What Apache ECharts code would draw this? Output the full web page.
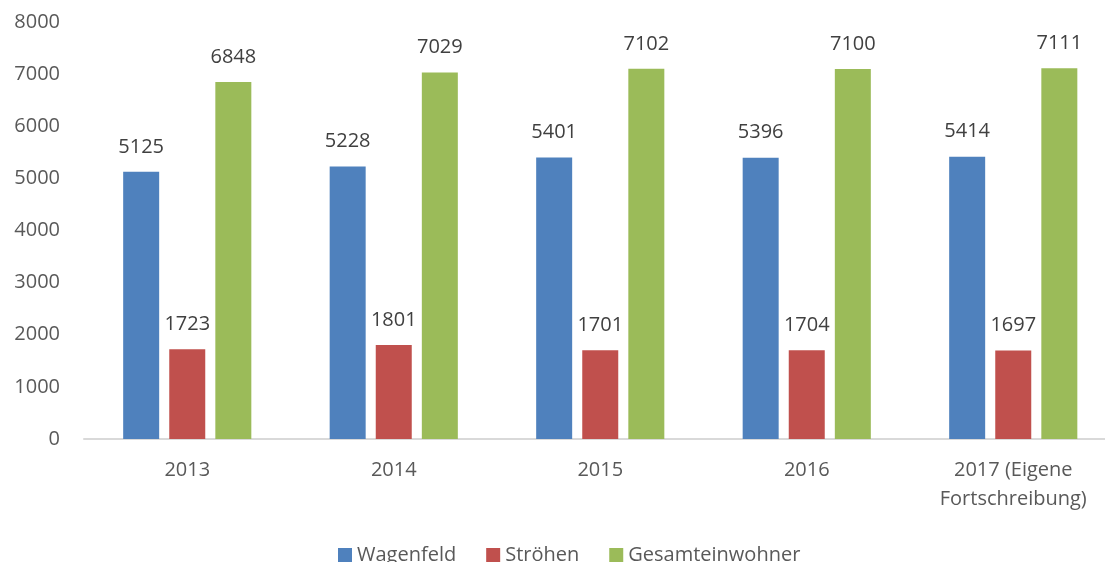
<!DOCTYPE html>
<html>
<head>
<meta charset="utf-8">
<script src="https://cdn.jsdelivr.net/npm/echarts@6/dist/echarts.min.js"></script>
<style>
  html, body { margin: 0; padding: 0; background: #fff; }
  #chart { width: 1105px; height: 562px; }
</style>
</head>
<body>
<div id="chart"></div>
<script>
const years = ['2013', '2014', '2015', '2016', '2017 (Eigene\nFortschreibung)'];
const wagenfeld = [5125, 5228, 5401, 5396, 5414];
const stroehen = [1723, 1801, 1701, 1704, 1697];
const gesamt = [6848, 7029, 7102, 7100, 7111];

const font = 'Open Sans';
const labelStyle = {
  show: true,
  position: 'top',
  distance: 15,
  color: '#404040',
  fontFamily: font,
  fontSize: 20
};

const chart = echarts.init(document.getElementById('chart'));
chart.setOption({
  animation: false,
  textStyle: { fontFamily: font },
  grid: { left: 84, right: -11.5, top: 22, bottom: 123, outerBoundsMode: 'none' },
  legend: {
    top: 540,
    left: 333,
    itemWidth: 14,
    itemHeight: 14,
    itemGap: 30,
    icon: 'rect',
    textStyle: { color: '#595959', fontFamily: font, fontSize: 20 },
    data: ['Wagenfeld', 'Ströhen', 'Gesamteinwohner']
  },
  xAxis: {
    type: 'category',
    data: years,
    axisLine: { lineStyle: { color: '#d9d9d9', width: 2 } },
    axisTick: { show: false },
    axisLabel: {
      color: '#595959',
      fontFamily: font,
      fontSize: 20,
      margin: 17,
      lineHeight: 29
    }
  },
  yAxis: {
    type: 'value',
    min: 0,
    max: 8000,
    interval: 1000,
    splitLine: { show: false },
    axisLine: { show: false },
    axisTick: { show: false },
    axisLabel: {
      color: '#595959',
      fontFamily: font,
      fontSize: 20,
      margin: 24,
      formatter: v => String(v)
    }
  },
  series: [
    { name: 'Wagenfeld', type: 'bar', data: wagenfeld, barWidth: 36, barGap: '28%',
      itemStyle: { color: '#4f81bd' }, label: labelStyle },
    { name: 'Ströhen', type: 'bar', data: stroehen, barWidth: 36, barGap: '28%',
      itemStyle: { color: '#c0504d' }, label: labelStyle },
    { name: 'Gesamteinwohner', type: 'bar', data: gesamt, barWidth: 36, barGap: '28%',
      itemStyle: { color: '#9bbb59' }, label: labelStyle }
  ]
});
</script>
</body>
</html>
